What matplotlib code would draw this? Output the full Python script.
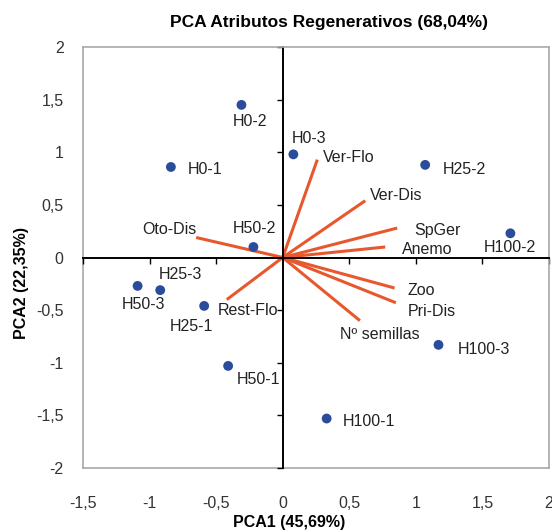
"""
PCA Atributos Regenerativos — biplot (scores + loadings)
"""

import matplotlib
matplotlib.use("Agg")
import matplotlib.pyplot as plt

plt.rcParams["font.family"] = ["Liberation Sans", "DejaVu Sans"]

# ── Datos ───────────────────────────────────────────────────────────────────
muestras = ["H0-1", "H0-2", "H0-3", "H25-1", "H25-2", "H25-3",
            "H50-1", "H50-2", "H50-3", "H100-1", "H100-2", "H100-3"]
pca1_m = [-0.84, -0.31, 0.08, -0.59, 1.07, -0.92,
          -0.41, -0.22, -1.09, 0.33, 1.71, 1.17]
pca2_m = [0.86, 1.45, 0.98, -0.46, 0.88, -0.31,
          -1.03, 0.10, -0.27, -1.53, 0.23, -0.83]

atributos = ["Ver-Flo", "Ver-Dis", "SpGer", "Anemo", "Oto-Dis",
             "Zoo", "Pri-Dis", "Nº semillas", "Rest-Flo"]
pca1_a = [0.26, 0.62, 0.86, 0.77, -0.65, 0.84, 0.85, 0.58, -0.42]
pca2_a = [0.93, 0.54, 0.28, 0.10, 0.19, -0.29, -0.43, -0.60, -0.40]

xticks = [-1.5, -1, -0.5, 0, 0.5, 1, 1.5, 2]
yticks = [-2, -1.5, -1, -0.5, 0, 0.5, 1, 1.5, 2]

# desplazamiento de etiquetas (puntos tipográficos)
off_m = {"H0-1": (12, -2), "H0-2": (-6.5, -12), "H0-3": (-1, 11.5),
         "H25-1": (-25, -14.5), "H25-2": (13, -3), "H25-3": (-1, 11),
         "H50-1": (6, -10), "H50-2": (-15, 13), "H50-3": (-11.5, -13.5),
         "H100-1": (11.5, -2), "H100-2": (-19, -10), "H100-3": (14, -3)}
off_a = {"Ver-Flo": (4, 1.5), "Ver-Dis": (3, 3.5), "SpGer": (12, -1.5),
         "Anemo": (12, -1.5), "Oto-Dis": (-39, 6), "Zoo": (9.5, -2),
         "Pri-Dis": (8.5, -6), "Nº semillas": (-14.5, -10),
         "Rest-Flo": (-6.5, -8)}

AZUL = "#2b4c9b"
NARANJA = "#e8582e"
GRIS = "#a8a8a8"
FS = 11.5

fig = plt.figure(figsize=(5.52, 5.30), dpi=100)
ax = fig.add_axes([83 / 552, 1 - 468 / 530, 466 / 552, 421 / 530])
ax.set_xlim(-1.5, 2)
ax.set_ylim(-2, 2)

# ejes centrales en 0
for s in ["left", "bottom"]:
    ax.spines[s].set_position(("data", 0))
    ax.spines[s].set_color("black")
    ax.spines[s].set_linewidth(1.4)
for s in ["top", "right"]:
    ax.spines[s].set_color(GRIS)
    ax.spines[s].set_linewidth(1.2)
ax.set_xticks([t for t in xticks if t != 0])
ax.set_yticks([t for t in yticks if t != 0])
ax.tick_params(direction="out", length=4, width=1, color="black",
               labelbottom=False, labelleft=False)

# etiquetas en el marco
sx = ax.secondary_xaxis("bottom")
sx.set_xticks(xticks)
sx.set_xticklabels([f"{t:g}".replace(".", ",") for t in xticks])
sx.tick_params(length=0, pad=20, labelsize=FS, labelcolor="#333333")
sx.spines["bottom"].set_color(GRIS)
sx.spines["bottom"].set_linewidth(1.2)

sy = ax.secondary_yaxis("left")
sy.set_yticks(yticks)
sy.set_yticklabels([f"{t:g}".replace(".", ",") for t in yticks])
sy.tick_params(length=0, pad=14, labelsize=FS, labelcolor="#333333")
sy.spines["left"].set_color(GRIS)
sy.spines["left"].set_linewidth(1.2)

# vectores de atributos
for nom, x, y in zip(atributos, pca1_a, pca2_a):
    ax.plot([0, x], [0, y], color=NARANJA, lw=2.2, solid_capstyle="butt",
            zorder=2)
    ax.annotate(nom, (x, y), xytext=off_a[nom], textcoords="offset points",
                ha="left", va="center", fontsize=FS, color="#222222")

# muestras
ax.scatter(pca1_m, pca2_m, s=50, color=AZUL, zorder=3, edgecolors="none")
for nom, x, y in zip(muestras, pca1_m, pca2_m):
    ax.annotate(nom, (x, y), xytext=off_m[nom], textcoords="offset points",
                ha="left", va="center", fontsize=FS, color="#222222")

fig.text(329 / 552, 1 - 23 / 530, "PCA Atributos Regenerativos (68,04%)",
         ha="center", va="center", fontsize=12.5, fontweight="bold")
fig.text(289 / 552, 1 - 522 / 530, "PCA1 (45,69%)",
         ha="center", va="center", fontsize=FS, fontweight="bold")
fig.text(22 / 552, 1 - 283 / 530, "PCA2 (22,35%)", rotation=90,
         ha="center", va="center", fontsize=FS, fontweight="bold")

fig.savefig("out.png", dpi=100)
